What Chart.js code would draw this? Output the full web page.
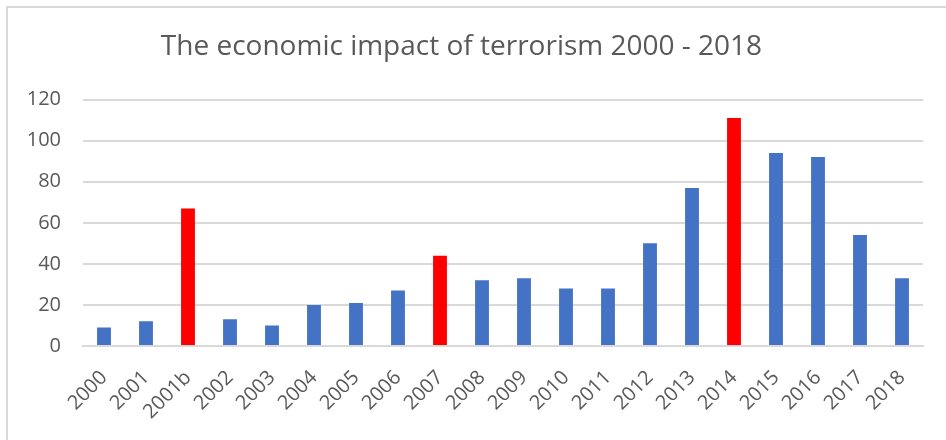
<!DOCTYPE html>
<html>
<head>
<meta charset="utf-8">
<script src="https://cdn.jsdelivr.net/npm/chart.js@4/dist/chart.umd.min.js"></script>
<style>
	html, body { margin: 0; padding: 0; background: #fff; overflow: hidden; }
	#frame { position: absolute; left: 6px; top: 6px; width: 980px; height: 480px; border: 2px solid #d9d9d9; }
	#wrap { position: absolute; left: 0; top: 0; width: 946px; height: 440px; }
</style>
</head>
<body>
<div id="frame"></div>
<div id="wrap"><canvas id="chart"></canvas></div>
<script>
( function() { 'use strict';

	// chart data
	const years = [ '2000', '2001', '2001b', '2002', '2003', '2004', '2005', '2006', '2007', '2008',
		'2009', '2010', '2011', '2012', '2013', '2014', '2015', '2016', '2017', '2018' ];
	const impact = [ 9, 12, 67, 13, 10, 20, 21, 27, 44, 32, 33, 28, 28, 50, 77, 111, 94, 92, 54, 33 ];
	const highlighted = [ '2001b', '2007', '2014' ];
	const yTicks = [ 0, 20, 40, 60, 80, 100, 120 ];

	const BLUE = '#4472c4';
	const RED = '#ff0000';
	const TEXT = '#595959';
	const FONT = "'Open Sans', 'Noto Sans', sans-serif";

	let barColors = years.map( function( y ) {
		return highlighted.indexOf( y ) > -1 ? RED : BLUE;
	} );

	new Chart( document.getElementById( 'chart' ), {
		type: 'bar',
		data: {
			labels: years,
			datasets: [ {
				data: impact,
				backgroundColor: barColors,
				borderWidth: 0,
				barPercentage: 0.33,
				categoryPercentage: 1
			} ]
		},
		options: {
			responsive: true,
			maintainAspectRatio: false,
			animation: false,
			layout: { padding: { left: 0, right: 23, top: 12, bottom: 0 } },
			plugins: {
				legend: { display: false },
				tooltip: { enabled: false },
				title: {
					display: true,
					text: 'The economic impact of terrorism 2000 - 2018',
					color: TEXT,
					font: { family: FONT, size: 28, weight: 'normal' },
					padding: { top: 18, bottom: 36 }
				}
			},
			scales: {
				x: {
					afterFit: function( scale ) { scale.height = 94; },
					grid: { display: false, drawTicks: false },
					border: { color: '#d9d9d9', width: 2 },
					ticks: {
						color: TEXT,
						font: { family: FONT, size: 20 },
						minRotation: 45,
						maxRotation: 45,
						padding: 20,
						autoSkip: false
					}
				},
				y: {
					min: 0,
					max: 120,
					afterBuildTicks: function( scale ) {
						scale.ticks = yTicks.map( function( v ) { return { value: v }; } );
					},
					afterFit: function( scale ) { scale.width = 83; },
					grid: { color: '#d9d9d9', lineWidth: 2, drawTicks: false },
					border: { display: false },
					ticks: {
						color: TEXT,
						font: { family: FONT, size: 20 },
						padding: 22
					}
				}
			}
		}
	} );
})();
</script>
</body>
</html>
